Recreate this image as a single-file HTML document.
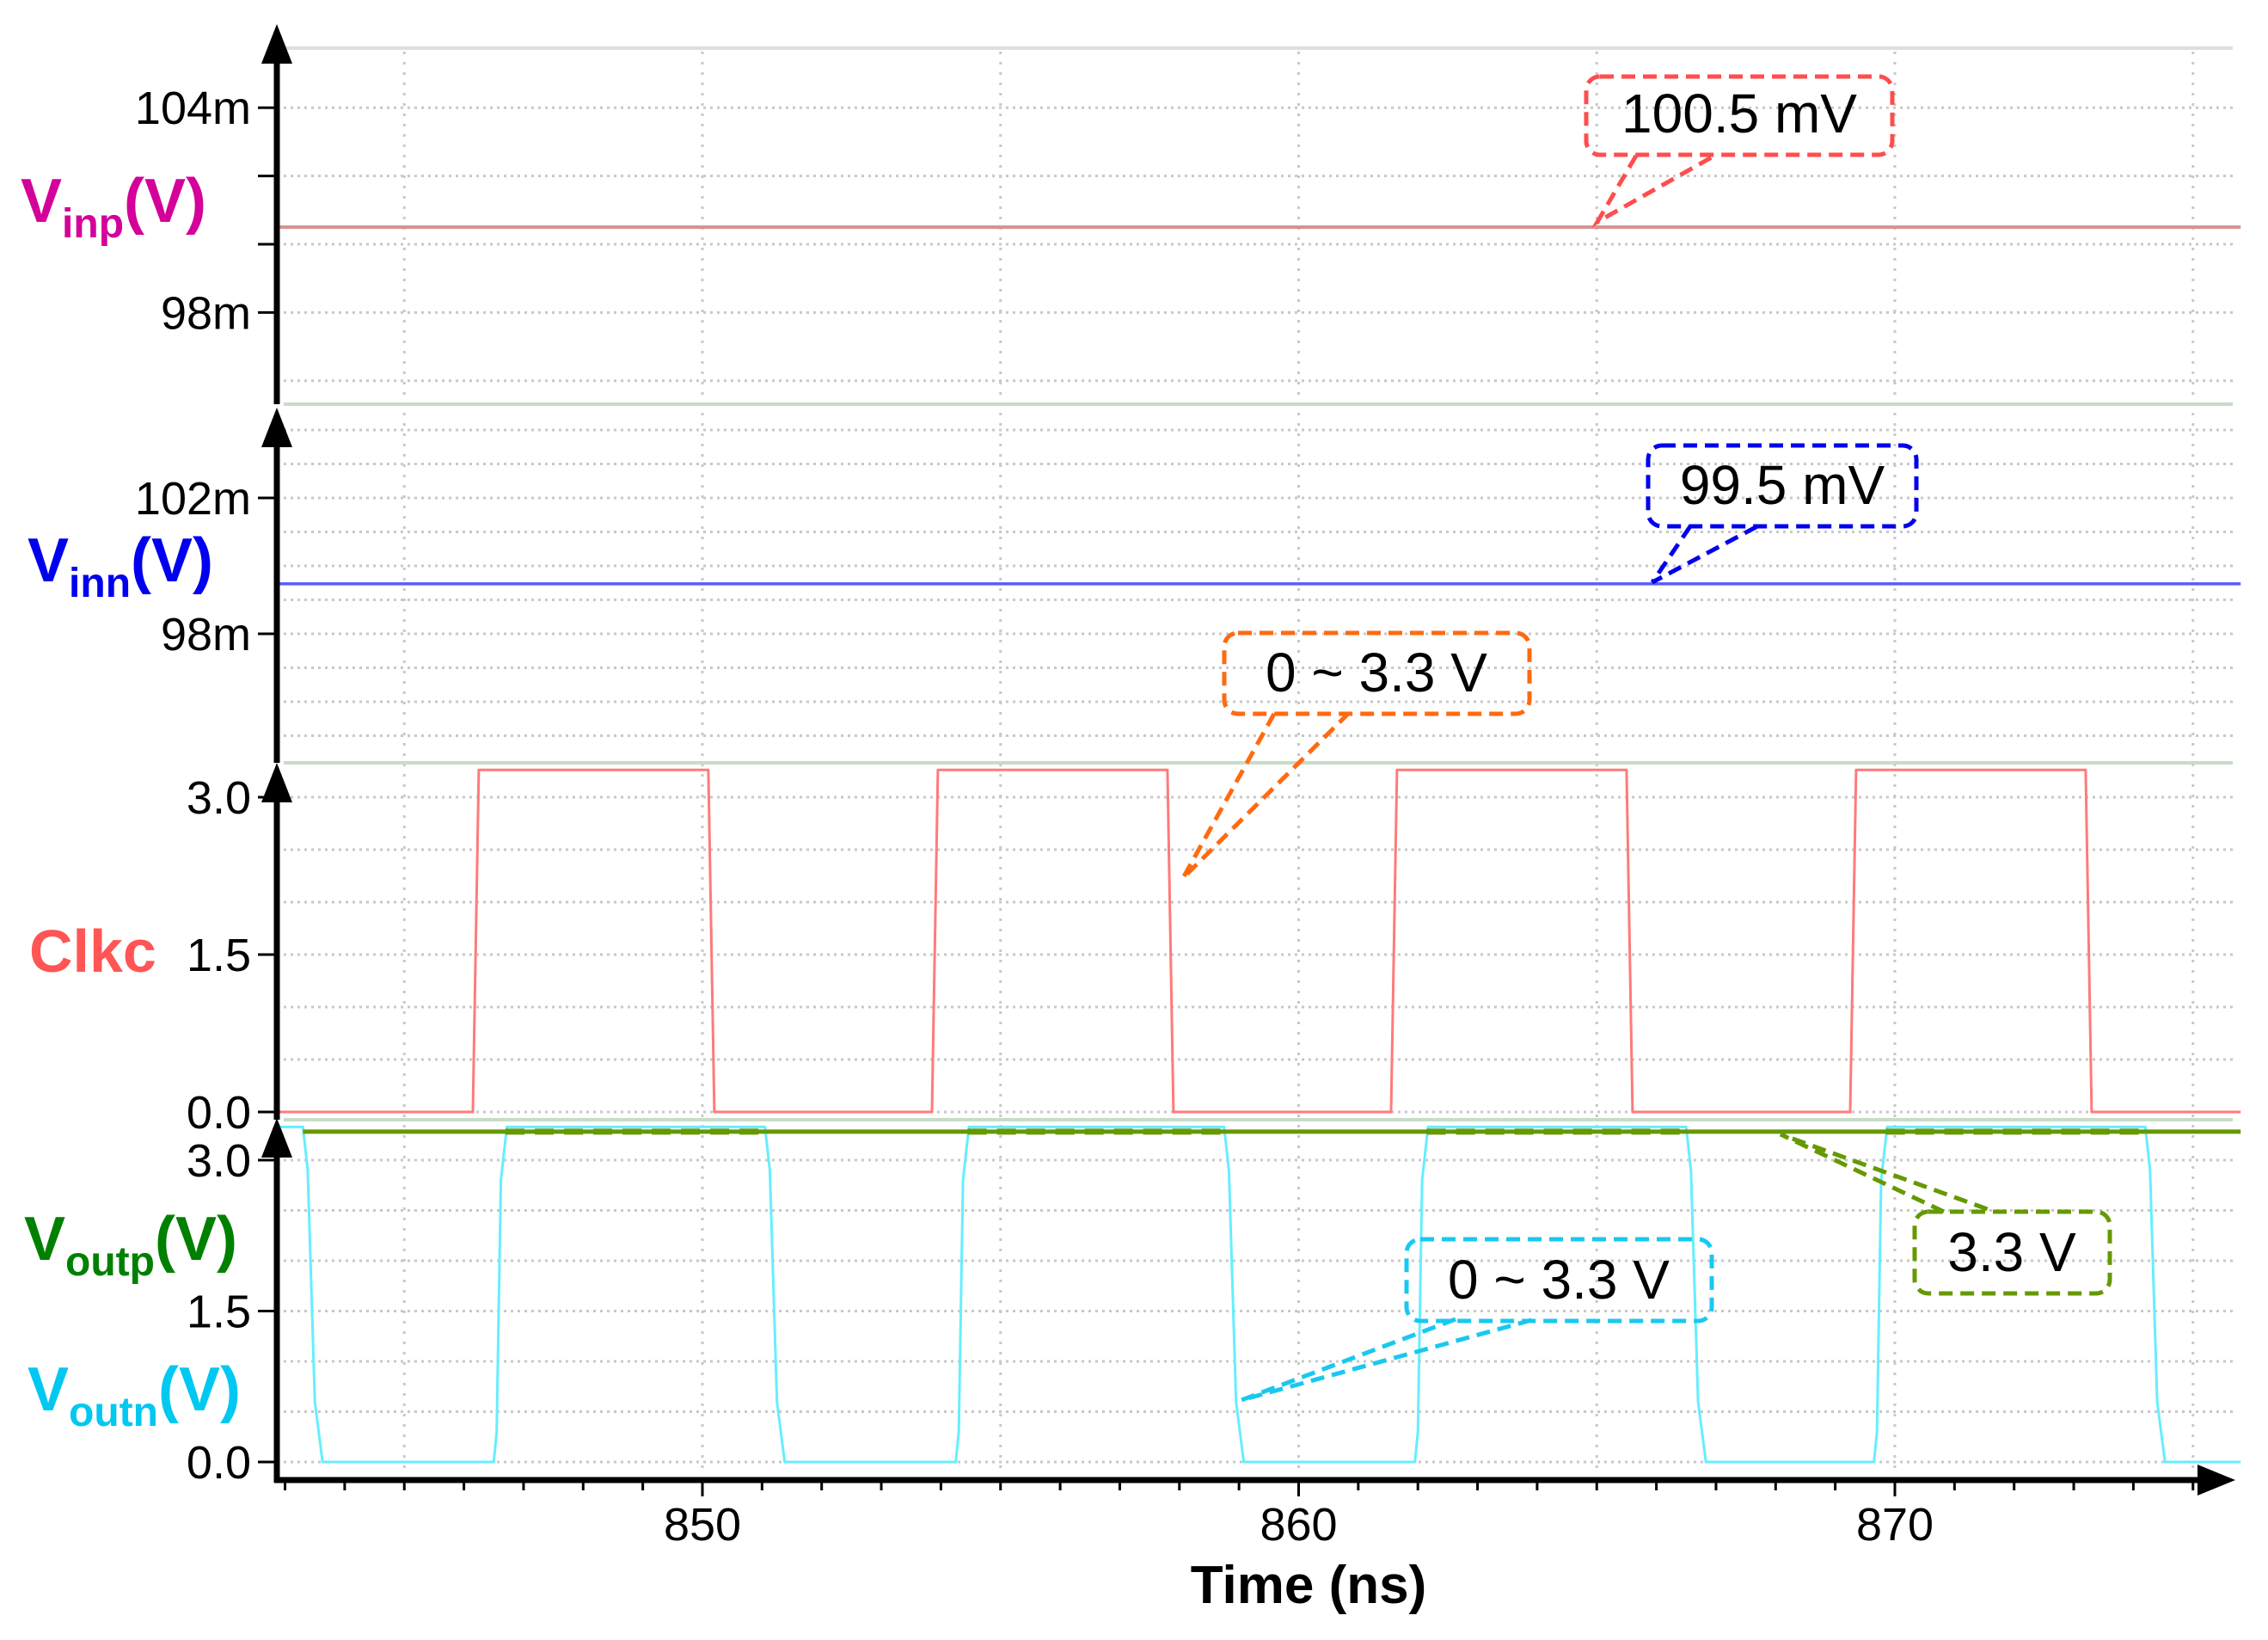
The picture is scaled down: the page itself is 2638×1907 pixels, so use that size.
<!DOCTYPE html>
<html><head><meta charset="utf-8"><style>
html,body{margin:0;padding:0;background:#fff;}
svg{display:block;font-family:"Liberation Sans",Arial,sans-serif;}
</style></head><body>
<svg id="chart" width="2638" height="1907" viewBox="0 0 2638 1907" xmlns="http://www.w3.org/2000/svg">
<g id="grid"></g>
<g id="traces"></g>
<g id="axes"></g>
<g id="labels"></g>
<g id="annots"></g>
</svg>
<script>
// ---- data ----
const xTicks = [850, 860, 870];
const xMinor = [843,844,845,846,847,848,849,850,851,852,853,854,855,856,857,858,859,860,861,862,863,864,865,866,867,868,869,870,871,872,873,874,875];
const xGrid = [845, 850, 855, 860, 865, 870, 875];
const tStart = 842.9, tEnd = 875.8;
const vinpValue = [100.5];
const vinnValue = [99.47];
const p1Ticks = [104, 102, 100, 98];
const p1Labels = ["104m", "", "", "98m"];
const p2Ticks = [102, 98];
const p2Labels = ["102m", "98m"];
const clkTicks = [3.0, 1.5, 0.0];
const clkLabels = ["3.0", "1.5", "0.0"];
const outTicks = [3.0, 1.5, 0.0];
const outLabels = ["3.0", "1.5", "0.0"];
const clkHigh = [3.26];
const clkRise = [846.15, 853.85, 861.55, 869.25];
const clkFall = [850.1, 857.8, 865.5, 873.2];
const voutpValue = [3.3];
const voutnHigh = [3.33];
const voutnFall = [843.3, 851.05, 858.75, 866.5, 874.2];
const voutnRise = [846.5, 854.25, 861.95, 869.65];

// ---- scales ----
const X0 = 322, XR = 2597;
function xs(t){ return 817 + (t - 850) * 69.35; }
function y1(v){ return 284 - (v - 100) * 39.7; }
function y2(v){ return 579 + (102 - v) * 39.5; }
function y3(v){ return 1293 - v * 122; }
function y4(v){ return 1700 - v * 117; }

const NS = "http://www.w3.org/2000/svg";
function mk(tag, attrs, parent){
  const e = document.createElementNS(NS, tag);
  for (const k in attrs) e.setAttribute(k, attrs[k]);
  parent.appendChild(e);
  return e;
}
const grid = document.getElementById('grid');
const traces = document.getElementById('traces');
const axes = document.getElementById('axes');
const labels = document.getElementById('labels');

// ---- grid ----
function hgrid(y){
  const l = mk('line', {x1: 330, x2: XR, y1: y, y2: y, stroke: '#c8c8c8', 'stroke-width': 3, 'stroke-dasharray': '3 5'}, grid);
  
  
}
for (let v = 96; v <= 104; v += 2) hgrid(y1(v));
for (let v = 95; v <= 104; v += 1) hgrid(y2(v));
for (let v = 0; v <= 3.001; v += 0.5) hgrid(y3(v));
for (let v = 0; v <= 3.001; v += 0.5) hgrid(y4(v));
xGrid.forEach(t => {
  const l = mk('line', {x1: xs(t), x2: xs(t), y1: 60, y2: 1715, stroke: '#c8c8c8', 'stroke-width': 3, 'stroke-dasharray': '3 9'}, grid);
  
  
});
[[56,'#dedede'],[470,'#c8dcc8'],[887,'#c8dcc8'],[1302,'#c8dcc8']].forEach(p => {
  const l = mk('line', {x1: 330, x2: XR, y1: p[0], y2: p[0], stroke: p[1], 'stroke-width': 4}, grid);
  
  
});

// ---- traces ----
function poly(pts, color, w, name, dash){
  const d = pts.map(p => p[0].toFixed(1) + ',' + p[1].toFixed(1)).join(' ');
  const a = {points: d, fill: 'none', stroke: color, 'stroke-width': w, 'stroke-linejoin': 'round'};
  if (dash) a['stroke-dasharray'] = dash;
  const e = mk('polyline', a, traces);
  
  
  return e;
}
poly([[xs(tStart), y1(vinpValue[0])], [xs(tEnd), y1(vinpValue[0])]], '#d89090', 4, 'vinp-trace');
poly([[xs(tStart), y2(vinnValue[0])], [xs(tEnd), y2(vinnValue[0])]], '#5a5aff', 3.5, 'vinn-trace');

(function(){
  const H = clkHigh[0];
  const ev = [];
  clkRise.forEach(t => ev.push([t, 1]));
  clkFall.forEach(t => ev.push([t, 0]));
  ev.sort((a, b) => a[0] - b[0]);
  const pts = [[xs(tStart), y3(0)]];
  ev.forEach(e => {
    if (e[1]) { pts.push([xs(e[0]), y3(0)]); pts.push([xs(e[0] + 0.1), y3(H)]); }
    else { pts.push([xs(e[0]), y3(H)]); pts.push([xs(e[0] + 0.1), y3(0)]); }
  });
  pts.push([xs(tEnd), y3(0)]);
  poly(pts, '#ff7a7a', 3, 'clkc-trace');
})();

(function(){
  const H = voutnHigh[0];
  const ev = [];
  voutnFall.forEach(t => ev.push([t, 0]));
  voutnRise.forEach(t => ev.push([t, 1]));
  ev.sort((a, b) => a[0] - b[0]);
  const pts = [[xs(tStart), y4(H)]];
  ev.forEach(e => {
    const t = e[0];
    if (e[1]) {
      pts.push([xs(t), y4(0)]); pts.push([xs(t + 0.05), y4(0.3)]);
      pts.push([xs(t + 0.12), y4(2.8)]); pts.push([xs(t + 0.22), y4(H)]);
    } else {
      pts.push([xs(t), y4(H)]); pts.push([xs(t + 0.08), y4(2.9)]);
      pts.push([xs(t + 0.2), y4(0.6)]); pts.push([xs(t + 0.33), y4(0)]);
    }
  });
  pts.push([xs(tEnd), y4(0)]);
  poly(pts, '#66eeff', 3, 'voutn-trace');
})();

(function(){
  const v = voutpValue[0];
  const yy = y4(v) + 2;
  poly([[xs(voutnFall[0]), yy], [xs(tEnd), yy]], '#669900', 5, 'voutp-trace');
  for (let i = 0; i < voutnRise.length; i++) {
    poly([[xs(voutnRise[i] + 0.2), yy], [xs(voutnFall[i + 1]), yy]], '#669900', 7, 'voutp-dashed-segment', '22 12');
  }
})();

// ---- axes ----
function line(x1, y1_, x2, y2_, w, name){
  const l = mk('line', {x1: x1, y1: y1_, x2: x2, y2: y2_, stroke: '#000', 'stroke-width': w}, axes);
  
  
}
function arrowUp(x, tip, name){
  const p = mk('polygon', {points: `${x},${tip} ${x-18},${tip+46} ${x+18},${tip+46}`, fill: '#000'}, axes);
  
  
}
line(X0, 60, X0, 470, 7, 'y-axis-vinp');
arrowUp(X0, 28, 'y-axis-arrow-vinp');
line(X0, 500, X0, 887, 7, 'y-axis-vinn');
arrowUp(X0, 474, 'y-axis-arrow-vinn');
line(X0, 915, X0, 1302, 7, 'y-axis-clkc');
arrowUp(X0, 887, 'y-axis-arrow-clkc');
line(X0, 1330, X0, 1724, 7, 'y-axis-vout');
arrowUp(X0, 1300, 'y-axis-arrow-vout');
line(X0 - 3, 1721, 2565, 1721, 7, 'x-axis');
(function(){
  const p = mk('polygon', {points: `2600,1721 2556,1703 2556,1739`, fill: '#000'}, axes);
  
  
})();
xMinor.forEach(t => line(xs(t), 1724, xs(t), xTicks.indexOf(t) >= 0 ? 1740 : 1733, 3, 'x-tick'));

function ylab(txt, y){
  const t = mk('text', {x: 292, y: y, 'text-anchor': 'end', 'font-size': 54, fill: '#000'}, labels);
  t.textContent = txt;
  
  
}
p1Ticks.forEach((v, i) => { line(300, y1(v), X0, y1(v), 3, 'y-tick'); if (p1Labels[i]) ylab(p1Labels[i], y1(v) + 19); });
p2Ticks.forEach((v, i) => { line(300, y2(v), X0, y2(v), 3, 'y-tick'); ylab(p2Labels[i], y2(v) + 19); });
clkTicks.forEach((v, i) => { line(300, y3(v), X0, y3(v), 3, 'y-tick'); ylab(clkLabels[i], y3(v) + 19); });
outTicks.forEach((v, i) => { line(300, y4(v), X0, y4(v), 3, 'y-tick'); ylab(outLabels[i], y4(v) + 19); });
xTicks.forEach(t => {
  const e = mk('text', {x: xs(t), y: 1791, 'text-anchor': 'middle', 'font-size': 54, fill: '#000'}, labels);
  e.textContent = String(t);
  
  
});
</script>
<svg style="position:absolute;left:0;top:0" width="2638" height="1907" viewBox="0 0 2638 1907" xmlns="http://www.w3.org/2000/svg" font-family="Liberation Sans, Arial, sans-serif">
  <text x="1522" y="1864" text-anchor="middle" font-size="62" font-weight="bold" fill="#000">Time (ns)</text>
  <text x="24" y="258" font-size="72" font-weight="bold" fill="#d4009a">V<tspan font-size="48" dy="18">inp</tspan><tspan dy="-18">(V)</tspan></text>
  <text x="32" y="676" font-size="72" font-weight="bold" fill="#0000ee">V<tspan font-size="48" dy="18">inn</tspan><tspan dy="-18">(V)</tspan></text>
  <text x="34" y="1130" font-size="70" font-weight="bold" fill="#ff5555">Clkc</text>
  <text x="28" y="1465" font-size="72" font-weight="bold" fill="#008000">V<tspan font-size="48" dy="18">outp</tspan><tspan dy="-18">(V)</tspan></text>
  <text x="32" y="1640" font-size="72" font-weight="bold" fill="#00c8f0">V<tspan font-size="48" dy="18">outn</tspan><tspan dy="-18">(V)</tspan></text>

  <g fill="none" stroke="#ff4d4d" stroke-width="5" stroke-dasharray="16 9">
    <rect x="1845" y="89" width="356" height="91" rx="16"/>
    <polyline points="1903,181 1858,258 1996,180"/>
  </g>
  <text x="2023" y="154" text-anchor="middle" font-size="64" fill="#000">100.5 mV</text>

  <g fill="none" stroke="#0000ee" stroke-width="5" stroke-dasharray="16 9">
    <rect x="1917" y="518" width="312" height="94" rx="16"/>
    <polyline points="1966,612 1922,677 2046,611"/>
  </g>
  <text x="2073" y="586" text-anchor="middle" font-size="64" fill="#000">99.5 mV</text>

  <g fill="none" stroke="#ff6a10" stroke-width="5" stroke-dasharray="16 9">
    <rect x="1424" y="736" width="355" height="94" rx="16"/>
    <polyline points="1482,830 1376,1021 1570,828"/>
  </g>
  <text x="1601" y="804" text-anchor="middle" font-size="64" fill="#000">0 ~ 3.3 V</text>

  <g fill="none" stroke="#19c8f0" stroke-width="5" stroke-dasharray="16 9">
    <rect x="1636" y="1441" width="355" height="95" rx="16"/>
    <polyline points="1693,1534 1444,1628 1785,1534"/>
  </g>
  <text x="1813" y="1510" text-anchor="middle" font-size="64" fill="#000">0 ~ 3.3 V</text>

  <g fill="none" stroke="#669900" stroke-width="5" stroke-dasharray="16 9">
    <rect x="2227" y="1409" width="227" height="95" rx="16"/>
    <polyline points="2261,1409 2071,1319 2320,1409"/>
  </g>
  <text x="2340" y="1478" text-anchor="middle" font-size="64" fill="#000">3.3 V</text>
</svg>
</body></html>
